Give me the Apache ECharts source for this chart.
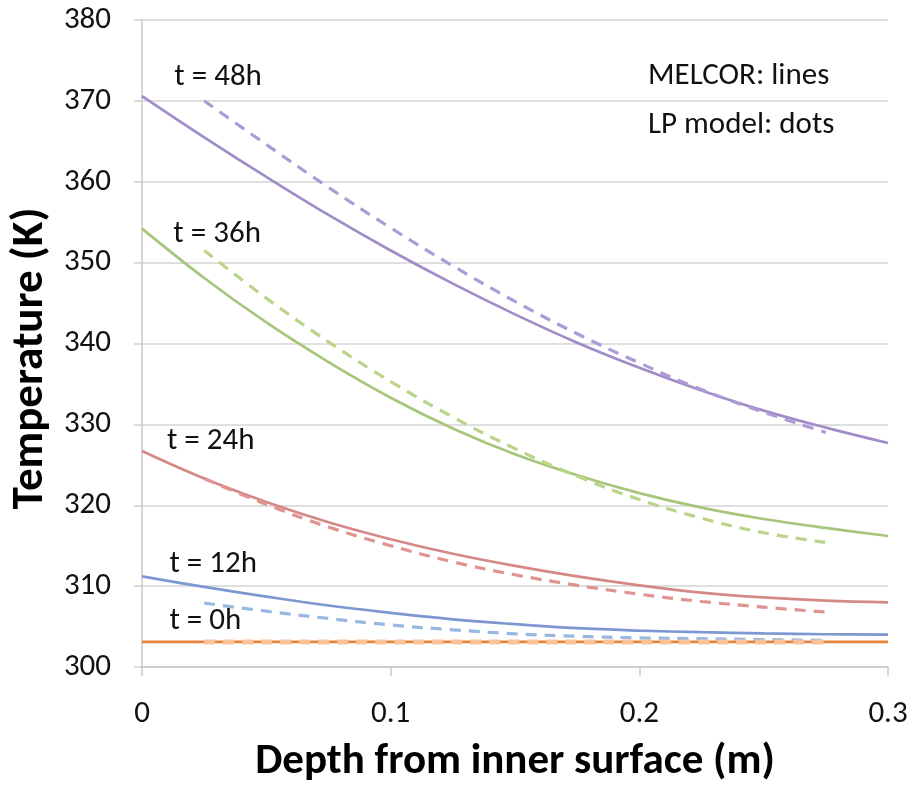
<!DOCTYPE html>
<html>
<head>
<meta charset="utf-8">
<script src="https://cdn.jsdelivr.net/npm/echarts@6/dist/echarts.min.js"></script>
<style>
  html, body { margin: 0; padding: 0; background: #fff; }
  #chart { width: 920px; height: 793px; }
</style>
</head>
<body>
<div id="chart"></div>
<script>
// depths (m) for MELCOR lines and LP model dashes
const depthMelcor = [0, 0.025, 0.05, 0.075, 0.1, 0.125, 0.15, 0.175, 0.2, 0.225, 0.25, 0.275, 0.3];
const depthLP = [0.025, 0.05, 0.075, 0.1, 0.125, 0.15, 0.175, 0.2, 0.225, 0.25, 0.275];

// MELCOR (solid)
const melcor0h  = [303.1, 303.1, 303.1, 303.1, 303.1, 303.1, 303.1, 303.1, 303.1, 303.1, 303.1, 303.1, 303.1];
const melcor12h = [311.2, 309.9, 308.7, 307.6, 306.7, 305.9, 305.3, 304.8, 304.5, 304.3, 304.15, 304.05, 304.0];
const melcor24h = [326.7, 323.3, 320.4, 317.9, 315.8, 314.0, 312.5, 311.2, 310.1, 309.2, 308.6, 308.2, 308.0];
const melcor36h = [354.2, 348.1, 342.6, 337.7, 333.3, 329.5, 326.3, 323.7, 321.5, 319.7, 318.3, 317.2, 316.2];
const melcor48h = [370.6, 365.5, 360.6, 355.9, 351.5, 347.4, 343.6, 340.1, 337.0, 334.2, 331.7, 329.6, 327.7];

// LP model (dashed)
const lp0h  = [303.1, 303.1, 303.1, 303.1, 303.1, 303.1, 303.1, 303.1, 303.1, 303.1, 303.1];
const lp12h = [307.9, 306.9, 306.0, 305.2, 304.6, 304.1, 303.8, 303.6, 303.5, 303.4, 303.3];
const lp24h = [323.3, 320.1, 317.3, 315.0, 313.0, 311.4, 310.1, 309.0, 308.1, 307.4, 306.8];
const lp36h = [351.5, 345.6, 340.2, 335.3, 330.9, 327.0, 323.6, 320.7, 318.4, 316.6, 315.4];
const lp48h = [370.0, 364.6, 359.3, 354.3, 349.6, 345.2, 341.2, 337.6, 334.3, 331.5, 329.0];

// curve labels (data coords of the left edge of each text)
const labelText = ["t = 48h", "t = 36h", "t = 24h", "t = 12h", "t = 0h"];
const labelX = [0.013, 0.0126, 0.010, 0.011, 0.011];
const labelY = [372.9, 353.5, 327.9, 312.7, 305.7];

const FONT = "Carlito, Lato, 'Open Sans', sans-serif";
const TXT = "#111";

const pair = (xs, ys) => xs.map((x, i) => [x, ys[i]]);

function solid(name, xs, ys, color) {
  return {
    name, type: "line", smooth: 0.4, showSymbol: false, silent: true,
    data: pair(xs, ys),
    lineStyle: { color, width: 2.7 },
    z: 2
  };
}
function dashed(name, xs, ys, color, width) {
  return {
    name, type: "line", smooth: 0.4, showSymbol: false, silent: true,
    data: pair(xs, ys),
    lineStyle: { color, width: width || 3.2, type: [11, 8] },
    z: 3
  };
}

const chart = echarts.init(document.getElementById("chart"));
chart.setOption({
  animation: false,
  backgroundColor: "#ffffff",
  grid: { left: 138, right: 32, top: 20, bottom: 126 },
  xAxis: {
    type: "value", min: 0, max: 0.3, interval: 0.1,
    name: "Depth from inner surface (m)",
    nameLocation: "middle", nameGap: 74,
    nameTextStyle: { fontFamily: FONT, fontSize: 43, fontWeight: "bold", color: "#000" },
    axisLine: { show: true, lineStyle: { color: "#c8c8c8", width: 1.5 } },
    axisTick: { show: true, length: 9, lineStyle: { color: "#c8c8c8", width: 1.5 } },
    axisLabel: { margin: 32, fontFamily: FONT, fontSize: 31, color: TXT },
    splitLine: { show: false }
  },
  yAxis: {
    type: "value", min: 300, max: 380, interval: 10,
    name: "Temperature (K)",
    nameLocation: "middle", nameGap: 87,
    nameTextStyle: { fontFamily: FONT, fontSize: 45, fontWeight: "bold", color: "#000", padding: [0, 30, 0, 0] },
    axisLine: { show: true, lineStyle: { color: "#c8c8c8", width: 1.5 } },
    axisTick: { show: true, length: 8, lineStyle: { color: "#d0d0d0", width: 1.5 } },
    axisLabel: { margin: 31, fontFamily: FONT, fontSize: 31, color: TXT },
    splitLine: { show: true, lineStyle: { color: "#d4d4d4", width: 1.5 } }
  },
  graphic: [
    { type: "text", left: 648, top: 61,
      style: { text: "MELCOR: lines", font: "31px " + FONT, fill: TXT } },
    { type: "text", left: 648, top: 110,
      style: { text: "LP model: dots", font: "31px " + FONT, fill: TXT } }
  ],
  series: [
    solid("MELCOR 48h", depthMelcor, melcor48h, "#a08dc8"),
    solid("MELCOR 36h", depthMelcor, melcor36h, "#a6c67c"),
    solid("MELCOR 24h", depthMelcor, melcor24h, "#d58987"),
    solid("MELCOR 12h", depthMelcor, melcor12h, "#7d98d0"),
    solid("MELCOR 0h", depthMelcor, melcor0h, "#e8843a"),
    dashed("LP 48h", depthLP, lp48h, "#ad9bd5"),
    dashed("LP 36h", depthLP, lp36h, "#bad48a"),
    dashed("LP 24h", depthLP, lp24h, "#df9492"),
    dashed("LP 12h", depthLP, lp12h, "#98b8e2"),
    dashed("LP 0h", depthLP, lp0h, "#f9c29a", 5),
    {
      name: "labels", type: "scatter", silent: true, symbolSize: 0,
      itemStyle: { opacity: 1 },
      data: labelText.map((t, i) => ({ value: [labelX[i], labelY[i]], name: t })),
      label: {
        show: true, position: "right", distance: 0, opacity: 1,
        formatter: p => p.name,
        fontFamily: FONT, fontSize: 31, color: TXT
      },
      z: 5
    }
  ]
});
</script>
</body>
</html>
